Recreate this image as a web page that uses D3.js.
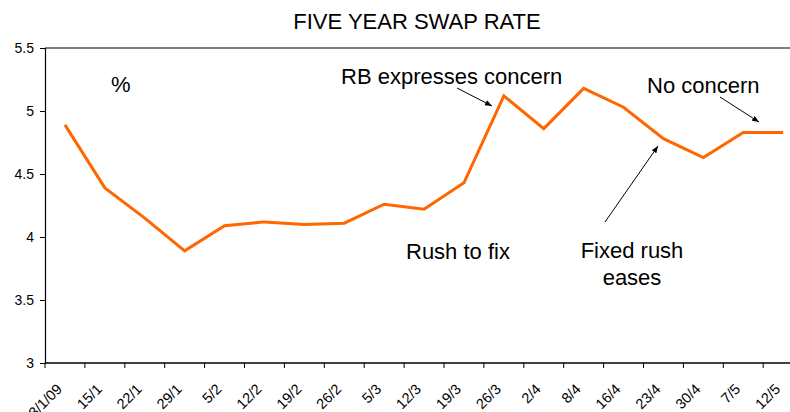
<!DOCTYPE html>
<html>
<head>
<meta charset="utf-8">
<script src="https://cdn.jsdelivr.net/npm/d3@7"></script>
<style>
    body { margin: 0; background: #fff; }
    svg { font-family: "Liberation Sans", Arial, sans-serif; display: block; }
    .note { font-size: 22px; fill: #000; }
</style>
</head>
<body>
<div id="chart"></div>
<script>
// chart data
const dates = ["8/1/09", "15/1", "22/1", "29/1", "5/2", "12/2", "19/2", "26/2", "5/3", "12/3",
    "19/3", "26/3", "2/4", "8/4", "16/4", "23/4", "30/4", "7/5", "12/5"];
const swapRate = [4.89, 4.39, 4.15, 3.89, 4.09, 4.12, 4.10, 4.11, 4.26, 4.22,
    4.43, 5.12, 4.86, 5.18, 5.03, 4.78, 4.63, 4.83, 4.83];
const yTicks = [3, 3.5, 4, 4.5, 5, 5.5];

const W = 790, H = 412;
const plotLeft = 45, plotTop = 48, plotBottom = 363;
const plotRight = plotLeft + dates.length * 39.9; // plot runs off the right edge

var svg = d3.select("#chart").append("svg")
    .attr("width", W)
    .attr("height", H);

var x = d3.scaleBand().domain(dates).range([plotLeft, plotRight]);
var y = d3.scaleLinear().domain([3, 5.5]).range([plotBottom, plotTop]);

// top frame line
svg.append("line")
    .attr("x1", plotLeft).attr("x2", W)
    .attr("y1", y(5.5)).attr("y2", y(5.5))
    .attr("stroke", "#555").attr("stroke-width", 1.5);

// y axis
var yAxis = svg.append("g")
    .attr("transform", "translate(" + plotLeft + ",0)")
    .call(d3.axisLeft(y).tickValues(yTicks).tickSize(5).tickPadding(6).tickFormat(d3.format("")));
yAxis.select(".domain").attr("stroke", "#000").attr("stroke-width", 1.2);
yAxis.selectAll(".tick line").attr("stroke", "#000");
yAxis.selectAll(".tick text").attr("font-size", "14px").attr("font-family", null).attr("fill", "#000");

// x axis, ticks between categories
var xAxis = svg.append("g")
    .attr("transform", "translate(0," + plotBottom + ")");
xAxis.append("line")
    .attr("x1", plotLeft).attr("x2", W)
    .attr("stroke", "#000").attr("stroke-width", 1.5);
xAxis.selectAll(".xtick").data(dates)
    .enter().append("line")
    .attr("class", "xtick")
    .attr("x1", d => x(d)).attr("x2", d => x(d))
    .attr("y1", 0).attr("y2", 5)
    .attr("stroke", "#000");
xAxis.selectAll(".xlab").data(dates)
    .enter().append("text")
    .attr("class", "xlab")
    .attr("font-size", "14.5px")
    .attr("text-anchor", "end")
    .attr("transform", d => "translate(" + (x(d) + x.bandwidth() / 2 - 2) + ",27) rotate(-45)")
    .text(d => d);

// line
var line = d3.line()
    .x((d, i) => x(dates[i]) + x.bandwidth() / 2)
    .y(d => y(d));

svg.append("path")
    .datum(swapRate)
    .attr("fill", "none")
    .attr("stroke", "#FF6600")
    .attr("stroke-width", 3)
    .attr("stroke-linejoin", "miter")
    .attr("d", line);

// title
svg.append("text")
    .attr("x", 417).attr("y", 29)
    .attr("text-anchor", "middle")
    .attr("font-size", "22px")
    .text("FIVE YEAR SWAP RATE");

// annotations
svg.append("defs").append("marker")
    .attr("id", "arr")
    .attr("viewBox", "0 0 10 10")
    .attr("refX", 10).attr("refY", 5)
    .attr("markerWidth", 7).attr("markerHeight", 7)
    .attr("orient", "auto")
    .append("path").attr("d", "M0,1 L10,5 L0,9 Z").attr("fill", "#000");

function note(tx, ty, lines, anchor) {
    var t = svg.append("text").attr("class", "note")
        .attr("text-anchor", anchor || "start");
    lines.forEach((s, i) => t.append("tspan").attr("x", tx).attr("y", ty + i * 27).text(s));
}
function arrow(x1, y1, x2, y2) {
    svg.append("line")
        .attr("x1", x1).attr("y1", y1).attr("x2", x2).attr("y2", y2)
        .attr("stroke", "#000").attr("stroke-width", 1)
        .attr("marker-end", "url(#arr)");
}

note(111, 92, ["%"]);
note(341, 84, ["RB expresses concern"]);
arrow(457, 88, 492, 106);
note(647, 93, ["No concern"]);
arrow(720, 97, 759, 122);
note(406, 259, ["Rush to fix"]);
note(632, 258, ["Fixed rush", "eases"], "middle");
arrow(605, 222, 658, 146);
</script>
</body>
</html>
